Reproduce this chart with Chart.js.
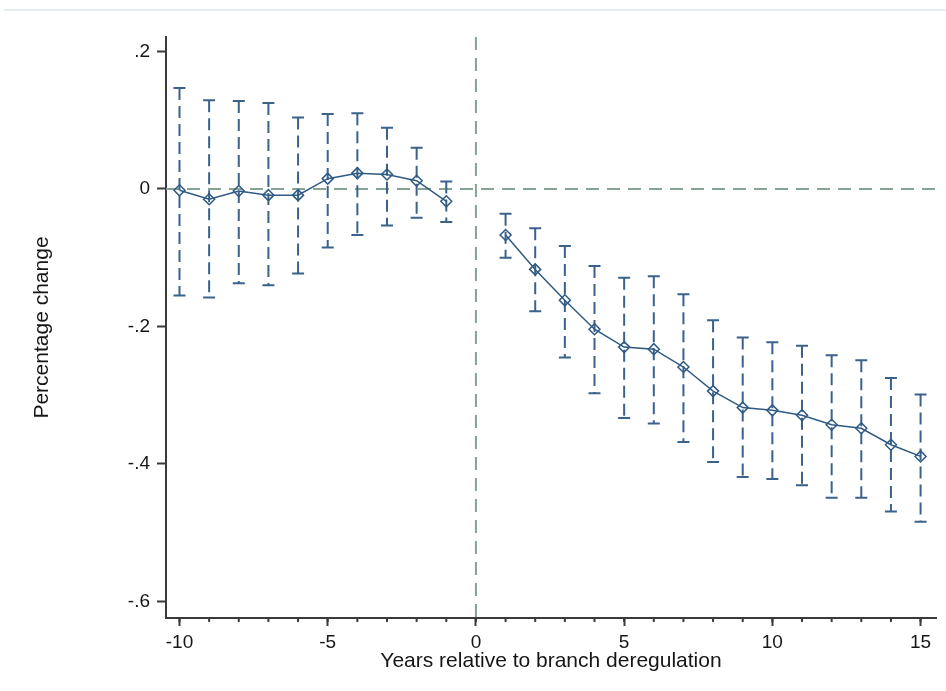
<!DOCTYPE html>
<html lang="en">
<head>
  <meta charset="UTF-8">
  <title>Years relative to branch deregulation</title>
  <script src="https://cdn.jsdelivr.net/npm/chart.js"></script>
  <style>
    body { margin: 0; background: #ffffff; }
    .wrap { position: relative; width: 946px; height: 691px; }
    .topline { position: absolute; left: 4px; top: 9px; width: 942px; height: 2px; background: #e6edf0; }
  </style>
</head>
<body>
  <div class="wrap">
    <div class="topline"></div>
    <canvas id="eventChart"></canvas>
  </div>

  <script>
    // event-study estimates
    const years = [-10, -9, -8, -7, -6, -5, -4, -3, -2, -1, 1, 2, 3, 4, 5, 6, 7, 8, 9, 10, 11, 12, 13, 14, 15];
    const coef = [-0.002, -0.015, -0.003, -0.009, -0.009, 0.015, 0.023, 0.021, 0.012, -0.018,
                  -0.067, -0.117, -0.162, -0.204, -0.230, -0.233, -0.259, -0.294, -0.318, -0.322,
                  -0.329, -0.343, -0.348, -0.372, -0.389];
    const upper = [0.147, 0.129, 0.128, 0.125, 0.104, 0.109, 0.110, 0.089, 0.060, 0.011,
                   -0.036, -0.057, -0.083, -0.112, -0.129, -0.127, -0.153, -0.191, -0.216, -0.223,
                   -0.228, -0.242, -0.249, -0.275, -0.299];
    const lower = [-0.155, -0.158, -0.137, -0.140, -0.123, -0.085, -0.067, -0.053, -0.042, -0.048,
                   -0.100, -0.178, -0.245, -0.297, -0.333, -0.341, -0.368, -0.397, -0.419, -0.422,
                   -0.431, -0.449, -0.449, -0.469, -0.484];

    const xTicks = [-10, -5, 0, 5, 10, 15];
    const xMinorTicks = [-10, -9, -8, -7, -6, -5, -4, -3, -2, -1, 0, 1, 2, 3, 4, 5, 6, 7, 8, 9, 10, 11, 12, 13, 14, 15];
    const yTicks = [0.2, 0, -0.2, -0.4, -0.6];
    const yTickLabels = ['.2', '0', '-.2', '-.4', '-.6'];

    const axisColor = '#3a3a3a';
    const seriesColor = '#2f5a84';
    const barColor = '#3b628b';
    const refColor = '#86a394';
    const textColor = '#161616';
    const fontFamily = '"Liberation Sans", Arial, sans-serif';

    // dashed reference lines at 0, error bars with caps, minor x ticks
    const extras = {
      id: 'extras',
      beforeDatasetsDraw(chart) {
        const { ctx, chartArea, scales: { x, y } } = chart;
        ctx.save();
        ctx.strokeStyle = refColor;
        ctx.lineWidth = 2;
        ctx.setLineDash([13, 8]);
        const y0 = y.getPixelForValue(0);
        ctx.beginPath();
        ctx.moveTo(chartArea.left, y0);
        ctx.lineTo(chartArea.right, y0);
        ctx.stroke();
        const x0 = x.getPixelForValue(0);
        ctx.beginPath();
        ctx.moveTo(x0, chartArea.top);
        ctx.lineTo(x0, chartArea.bottom);
        ctx.stroke();

        ctx.strokeStyle = barColor;
        ctx.lineWidth = 2;
        years.forEach((yr, i) => {
          const px = x.getPixelForValue(yr);
          const top = y.getPixelForValue(upper[i]);
          const bot = y.getPixelForValue(lower[i]);
          ctx.setLineDash([12, 6]);
          ctx.beginPath();
          ctx.moveTo(px, top);
          ctx.lineTo(px, bot);
          ctx.stroke();
          ctx.setLineDash([]);
          ctx.beginPath();
          ctx.moveTo(px - 6, top);
          ctx.lineTo(px + 6, top);
          ctx.moveTo(px - 6, bot);
          ctx.lineTo(px + 6, bot);
          ctx.stroke();
        });
        ctx.restore();
      },
      afterDraw(chart) {
        const { ctx, chartArea, scales: { x } } = chart;
        ctx.save();
        ctx.strokeStyle = axisColor;
        ctx.lineWidth = 2;
        ctx.beginPath();
        xMinorTicks.forEach(v => {
          const px = x.getPixelForValue(v);
          ctx.moveTo(px, chartArea.bottom);
          ctx.lineTo(px, chartArea.bottom + 4);
        });
        ctx.stroke();
        ctx.restore();
      }
    };

    const points = years.map((yr, i) => ({ x: yr, y: coef[i] }));
    const lineStyle = {
      borderColor: seriesColor,
      borderWidth: 1.5,
      pointStyle: 'rectRot',
      pointRadius: 5.5,
      pointBorderWidth: 1.5,
      pointBorderColor: seriesColor,
      pointBackgroundColor: 'rgba(0,0,0,0)',
      tension: 0,
      fill: false
    };

    const ctx = document.getElementById('eventChart').getContext('2d');
    new Chart(ctx, {
      type: 'line',
      data: {
        datasets: [
          Object.assign({ label: 'before', data: points.filter(p => p.x < 0) }, lineStyle),
          Object.assign({ label: 'after', data: points.filter(p => p.x > 0) }, lineStyle)
        ]
      },
      options: {
        responsive: true,
        maintainAspectRatio: false,
        animation: false,
        layout: { padding: { left: 0, top: 37, right: 10, bottom: 0 } },
        plugins: {
          legend: { display: false },
          tooltip: { enabled: false }
        },
        scales: {
          x: {
            type: 'linear',
            min: -10.455,
            max: 15.52,
            afterFit: s => { s.height = 73; },
            afterBuildTicks: s => { s.ticks = xTicks.map(v => ({ value: v })); },
            border: { display: true, color: axisColor, width: 2 },
            grid: { drawOnChartArea: false, drawTicks: true, tickLength: 8, tickColor: axisColor, tickWidth: 2 },
            ticks: {
              color: textColor,
              padding: 5,
              maxRotation: 0,
              font: { family: fontFamily, size: 19 },
              callback: v => String(v)
            },
            title: {
              display: true,
              text: 'Years relative to branch deregulation',
              color: textColor,
              font: { family: fontFamily, size: 21 },
              padding: { top: 0, bottom: 17 }
            }
          },
          y: {
            type: 'linear',
            min: -0.624,
            max: 0.221,
            afterFit: s => { s.width = 166; },
            afterBuildTicks: s => { s.ticks = yTicks.map(v => ({ value: v })); },
            border: { display: true, color: axisColor, width: 2 },
            grid: { drawOnChartArea: false, drawTicks: true, tickLength: 9, tickColor: axisColor, tickWidth: 2 },
            ticks: {
              color: textColor,
              padding: 7,
              font: { family: fontFamily, size: 19 },
              callback: v => {
                const i = yTicks.findIndex(t => Math.abs(t - v) < 1e-6);
                return i >= 0 ? yTickLabels[i] : '';
              }
            },
            title: {
              display: true,
              text: 'Percentage change',
              color: textColor,
              font: { family: fontFamily, size: 21 },
              padding: { top: 30, bottom: 0 }
            }
          }
        }
      },
      plugins: [extras]
    });
  </script>
</body>
</html>
